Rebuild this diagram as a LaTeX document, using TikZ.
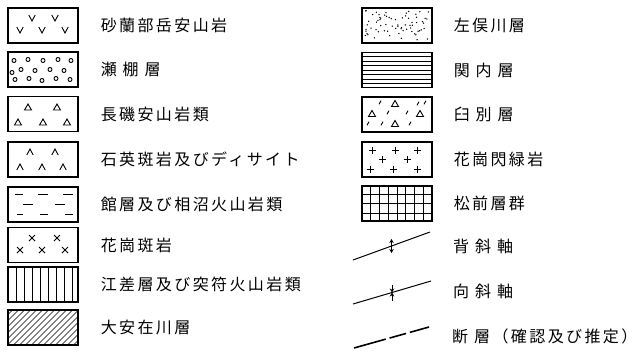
\documentclass[tikz,border=0pt]{standalone}
\usepackage{fontspec}
\newfontfamily\jpfont[LetterSpace=15]{Noto Sans CJK JP}
\usetikzlibrary{arrows.meta, positioning, calc}
\tikzset{legendbox/.style={rectangle,draw,line width=1.1bp,minimum width=70bp,minimum height=35bp,inner sep=0pt},
         legendtext/.style={anchor=west,inner sep=0pt,font=\jpfont\fontsize{16bp}{18bp}\selectfont},
         symbolline/.style={line width=0.9bp},
         fillline/.style={line width=0.6bp},
         axisline/.style={line width=1bp},
         faultline/.style={line width=1.6bp,dash pattern=on 33bp off 4bp on 17bp off 4bp on 30bp},
         foldarrow/.style={line width=0.9bp,-{Stealth[length=4bp,width=4.5bp]}}}

\begin{document}
\begin{tikzpicture}[x=1bp,y=-1bp]
    \useasboundingbox (0,0) rectangle (636,357);
    % Left column boxes
    \node (sarabe)   [legendbox] at (43,25.5)  {};
    \node (setana)   [legendbox] at (43,69.5)  {};
    \node (nagaiso)  [legendbox] at (43,114)   {};
    \node (sekiei)   [legendbox] at (43,159.5) {};
    \node (tate)     [legendbox] at (43,204.5) {};
    \node (hangan)   [legendbox] at (43,245)   {};
    \node (esashi)   [legendbox] at (43,284.5) {};
    \node (oyasu)    [legendbox] at (43,327.5) {};
    % Right column boxes
    \node (samata)   [legendbox] at (397,25.5)  {};
    \node (sekinai)  [legendbox] at (397,70)    {};
    \node (usubetsu) [legendbox] at (397,114.5) {};
    \node (senryoku) [legendbox] at (397,159.5) {};
    \node (matsumae) [legendbox] at (397,203.5) {};
    % Labels
    \node[legendtext, right=22bp of sarabe]   {砂蘭部岳安山岩};
    \node[legendtext, right=22bp of setana]   {瀬 棚 層};
    \node[legendtext, right=22bp of nagaiso]  {長磯安山岩類};
    \node[legendtext, right=22bp of sekiei]   {石英斑岩及びディサイト};
    \node[legendtext, right=22bp of tate]     {館層及び相沼火山岩類};
    \node[legendtext, right=22bp of hangan]   {花崗斑岩};
    \node[legendtext, right=22bp of esashi]   {江差層及び突符火山岩類};
    \node[legendtext, right=22bp of oyasu]    {大安在川層};
    \node[legendtext, right=21bp of samata]   {左俣川層};
    \node[legendtext, right=21bp of sekinai]  {関 内 層};
    \node[legendtext, right=21bp of usubetsu] {臼 別 層};
    \node[legendtext, right=21bp of senryoku] {花崗閃緑岩};
    \node[legendtext, right=21bp of matsumae] {松前層群};
    % v marks
    \begin{scope}[shift={(sarabe.center)}]
      \foreach \x/\y in {-11/-7.5, 12/-7.5, -23/4.5, -1/4.5, 22/4.5}
        \draw[symbolline] (\x-3.2,\y-3) -- (\x,\y+3) -- (\x+3.2,\y-3);
    \end{scope}
    % small circles
    \begin{scope}[shift={(setana.center)}]
      \foreach \x/\y in {-29/-9, -15/-10, 0/-9, 15/-10, 28/-9, -22/0, -8/1, 7/0, 21/1, -31/3,
                         -28/10, -14/9, -1/11, 13/9, 27/10}
        \draw[symbolline] (\x,\y) circle[radius=2bp];
    \end{scope}
    % triangles
    \begin{scope}[shift={(nagaiso.center)}]
      \foreach \x/\y in {-15/-7, 14/-7, -25/8, 0/8, 24/8}
        \draw[symbolline] (\x-3.5,\y+3) -- (\x,\y-3) -- (\x+3.5,\y+3) -- cycle;
    \end{scope}
    % carets
    \begin{scope}[shift={(sekiei.center)}]
      \foreach \x/\y in {-13/-7.5, 12/-7.5, -23/7.5, -1/7.5, 20/7.5}
        \draw[symbolline] (\x-3.2,\y+3) -- (\x,\y-3) -- (\x+3.2,\y+3);
    \end{scope}
    % dashes
    \begin{scope}[shift={(tate.center)}]
      \foreach \a/\b/\y in {-28/-20/-10, -5/5/-10, 20/30/-10, -20/-10/0, 12/22/0,
                            -26/-20/10, -3/5/10, 22/30/10}
        \draw[symbolline] (\a,\y) -- (\b,\y);
    \end{scope}
    % crosses
    \begin{scope}[shift={(hangan.center)}]
      \foreach \x/\y in {-11/-7, 14/-7, -23/5, -1/5, 22/5}
        \draw[symbolline] (\x-3,\y-3) -- (\x+3,\y+3) (\x-3,\y+3) -- (\x+3,\y-3);
    \end{scope}
    % vertical lines
    \begin{scope}[shift={(esashi.center)}]
      \foreach \x in {-27,-19,...,29}
        \draw[fillline] (\x,-17.5) -- (\x,17.5);
    \end{scope}
    % diagonal hatch
    \begin{scope}[shift={(oyasu.center)}]
      \clip (-35,-17.5) rectangle (35,17.5);
      \foreach \i in {-60,-54,...,60}
        \draw[line width=0.5bp] (\i-20,20) -- (\i+20,-20);
    \end{scope}
    % stipple
    \begin{scope}[shift={(samata.center)}]
      \pgfmathsetseed{11}
      \foreach \k in {1,...,70}
        \fill ({-32+64*rnd},{-15+30*rnd}) circle[radius=0.75bp];
    \end{scope}
    % horizontal lines
    \begin{scope}[shift={(sekinai.center)}]
      \foreach \y in {-13.5,-9,...,13.5}
        \draw[fillline] (-35,\y) -- (35,\y);
    \end{scope}
    % triangles and ticks
    \begin{scope}[shift={(usubetsu.center)}]
      \foreach \x/\y in {-2/-11, -25/-1, 23/-1, -2/9}
        \draw[symbolline] (\x-3.5,\y+3) -- (\x,\y-3) -- (\x+3.5,\y+3) -- cycle;
      \foreach \x/\y in {-17/-12, 21/-11, -29/9, -9/-2, 10/-2, 13/9, 28/-12, -15/9}
        \draw[symbolline] (\x-1,\y+1.8) -- (\x+1,\y-1.8);
    \end{scope}
    % plus marks
    \begin{scope}[shift={(senryoku.center)}]
      \foreach \x/\y in {-25/-9.5, -2/-9.5, 20/-9.5, -15/0, 10/0, -27/9.5, -4/9.5, 20/9.5}
        \draw[symbolline] (\x-3.5,\y) -- (\x+3.5,\y) (\x,\y-3.5) -- (\x,\y+3.5);
    \end{scope}
    % grid
    \begin{scope}[shift={(matsumae.center)}]
      \foreach \x in {-26.25,-17.5,...,26.25}
        \draw[fillline] (\x,-17.5) -- (\x,17.5);
      \foreach \y in {-9.5,0,9.5}
        \draw[fillline] (-35,\y) -- (35,\y);
    \end{scope}
    % Fold axes and fault
    \coordinate (haisha-w) at (353,260);
    \coordinate (haisha-e) at (430,232);
    \coordinate (kousha-w) at (353,304);
    \coordinate (kousha-e) at (431,281);
    \coordinate (danso-w)  at (354,348);
    \coordinate (danso-e)  at (429,327);
    \draw[axisline] (haisha-w) -- (haisha-e);
    \coordinate (haisha-m) at ($(haisha-w)!0.5!(haisha-e)$);
    \draw[foldarrow] (haisha-m) -- ++(0,-7);
    \draw[foldarrow] (haisha-m) -- ++(0,7);
    \draw[axisline] (kousha-w) -- (kousha-e);
    \coordinate (kousha-m) at ($(kousha-w)!0.5!(kousha-e)$);
    \draw[foldarrow] ($(kousha-m)+(0,-8)$) -- (kousha-m);
    \draw[foldarrow] ($(kousha-m)+(0,8)$) -- (kousha-m);
    \draw[faultline] (danso-w) -- (danso-e);
    \node[legendtext] (haisha) at (453,246) {背 斜 軸};
    \node[legendtext] (kousha) at (453,291) {向 斜 軸};
    \node[legendtext] (danso)  at (452,336) {断 層（確認及び推定）};
\end{tikzpicture}
\end{document}
